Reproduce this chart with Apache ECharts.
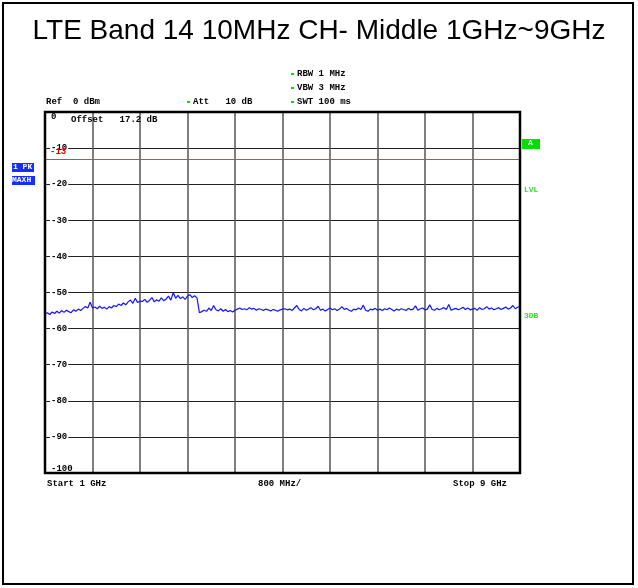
<!DOCTYPE html>
<html>
<head>
<meta charset="utf-8">
<script src="https://cdn.jsdelivr.net/npm/echarts@6/dist/echarts.min.js"></script>
<style>
html,body{margin:0;padding:0;background:#fff;}
#chart{width:638px;height:588px;}
</style>
</head>
<body>
<div id="chart"></div>
<script>
// ---- data ----
var titleText = "LTE Band 14 10MHz CH- Middle 1GHz~9GHz";
var freqStartMHz = 1000;
var freqStopMHz = 9000;
var freqStepMHz = 40;
var levelMin = -100;
var levelMax = 0;
var levelStep = 10;
var limitLine = -13;
var traceDbm = [
  -56.0,-55.6,-56.1,-55.4,-55.8,-55.2,-55.7,-55.0,-55.5,-54.9,-55.3,-55.6,-54.8,
  -55.2,-54.6,-55.0,-54.4,-53.9,-54.3,-52.7,-54.3,
  -54.0,-54.5,-53.8,-54.4,-54.1,-54.6,-53.9,-54.3,-53.6,-53.9,
  -53.2,-53.6,-52.9,-53.4,-52.6,-52.1,-53.0,-51.6,-52.8,-52.4,
  -52.5,-51.9,-52.7,-52.2,-51.4,-52.6,-52.0,-52.4,-51.5,-52.3,-51.8,-51.0,-52.1,-50.0,-51.6,
  -50.8,-51.7,-51.2,-51.9,-51.0,-50.6,-51.4,-50.9,-51.5,
  -55.6,
  -55.3,-54.9,-55.2,-54.3,-55.0,-53.6,-54.8,-55.1,-54.5,-55.2,-54.7,-55.3,-55.0,-55.4,-54.9,
  -54.6,-54.3,-54.7,-54.5,-54.8,-54.2,-54.6,-54.4,-54.9,-54.5,-54.7,-55.0,-54.6,-54.8,-55.1,-54.7,-54.9,-55.2,-54.8,-54.6,
  -54.5,-54.8,-54.6,-55.0,-54.3,-53.6,-54.7,-55.1,-54.4,-54.9,-54.6,-54.2,-54.8,-54.5,-53.8,-54.9,-54.6,-55.1,-54.7,-54.3,
  -54.8,-54.5,-55.0,-54.6,-53.9,-54.7,-54.4,-54.9,-55.2,-54.6,-54.8,-54.3,-54.7,-53.5,-54.9,-55.2,-54.6,-54.8,-54.4,-54.9,
  -54.6,-55.0,-54.5,-54.8,-54.3,-54.7,-55.1,-54.6,-54.9,-54.5,
  -54.7,-55.0,-54.4,-54.8,-54.6,-53.7,-54.9,-54.5,-54.3,-54.8,-54.6,-53.4,-54.7,-54.9,-54.4,-54.8,-54.5,-54.2,-54.7,-53.3,
  -54.9,-54.6,-54.4,-54.8,-54.5,-54.1,-54.7,-54.3,-54.8,-54.6,-54.4,-54.9,-54.2,-54.7,-54.5,-53.9,-54.6,-54.3,-54.8,-54.5,
  -54.2,-54.7,-54.4,-54.0,-54.6,-54.3,-53.6,-54.5,-54.1,-53.8
];
var headerLeft = ["Ref  0 dBm", "Att   10 dB"];
var headerRight = ["RBW 1 MHz", "VBW 3 MHz", "SWT 100 ms"];
var footer = ["Start 1 GHz", "800 MHz/", "Stop 9 GHz"];

var traceData = traceDbm.map(function (v, i) { return [freqStartMHz + i * freqStepMHz, v]; });

var mono = "'Liberation Mono', 'DejaVu Sans Mono', monospace";
function txt(x, y, s, color, extra) {
  var o = { type: 'text', left: x, top: y, z: 200,
    style: { text: s, fill: color || '#000', font: 'bold 9px ' + mono } };
  if (extra) for (var k in extra) o.style[k] = extra[k];
  return o;
}
function dot(x, y) {
  return { type: 'rect', shape: { x: x, y: y, width: 3, height: 2 }, style: { fill: '#00dd00' }, z: 200 };
}

var G = { left: 45, top: 112, width: 475, height: 361 };

var chart = echarts.init(document.getElementById('chart'), null, { renderer: 'canvas' });
chart.setOption({
  animation: false,
  backgroundColor: '#fff',
  title: {
    text: titleText, left: 'center', top: 12,
    textStyle: { fontFamily: "'Liberation Sans', Arial, sans-serif", fontSize: 28, fontWeight: 'normal', color: '#000' }
  },
  grid: { left: G.left, top: G.top, width: G.width, height: G.height, show: false },
  xAxis: [
    { type: 'value', min: freqStartMHz, max: freqStopMHz, show: false },
    { type: 'value', min: 0, max: 10, interval: 1, position: 'bottom',
      axisLine: { show: false }, axisTick: { show: false }, axisLabel: { show: false },
      splitLine: { show: true, lineStyle: { color: '#555', width: 1.5 } } }
  ],
  yAxis: {
    type: 'value', min: levelMin, max: levelMax, interval: levelStep,
    axisLine: { show: false }, axisTick: { show: false },
    splitLine: { show: true, lineStyle: { color: '#222', width: 1.2 } },
    axisLabel: {
      inside: true, margin: 5, color: '#000',
      fontFamily: mono, fontSize: 9, fontWeight: 'bold',
      backgroundColor: '#fff', padding: [0, 1, 0, 1],
      verticalAlignMinLabel: 'bottom', verticalAlignMaxLabel: 'top',
      formatter: function (v) { return String(v); }
    }
  },
  series: [{
    type: 'line', xAxisIndex: 0, data: traceData, showSymbol: false, symbol: 'none',
    lineStyle: { color: '#1414ff', width: 1.2 }, z: 10,
    markLine: {
      silent: true, symbol: 'none', label: { show: false },
      lineStyle: { color: '#e83a3a', width: 1, type: 'solid' },
      data: [{ yAxis: limitLine }]
    }
  }],
  graphic: [
    { type: 'rect', shape: { x: 3, y: 3, width: 630, height: 581 }, style: { fill: null, stroke: '#000', lineWidth: 2 }, z: 150 },
    { type: 'rect', shape: { x: G.left, y: G.top, width: G.width, height: G.height }, style: { fill: null, stroke: '#000', lineWidth: 2.5 }, z: 150 },
    dot(187, 101), txt(46, 97, headerLeft[0]), txt(193, 97, headerLeft[1]),
    dot(291, 73), txt(297, 69, headerRight[0]),
    dot(291, 87), txt(297, 83, headerRight[1]),
    dot(291, 101), txt(297, 97, headerRight[2]),
    txt(71, 115, "Offset   17.2 dB"),
    txt(50, 147, "-13", '#e00000'),
    { type: 'rect', shape: { x: 12, y: 163, width: 22, height: 9 }, style: { fill: '#1030ff' }, z: 190 },
    txt(13, 163, "1 PK", '#fff', { font: 'bold 8px ' + mono }),
    { type: 'rect', shape: { x: 12, y: 176, width: 23, height: 9 }, style: { fill: '#1030ff' }, z: 190 },
    txt(12, 176, "MAXH", '#fff', { font: 'bold 8px ' + mono }),
    { type: 'rect', shape: { x: 522, y: 139, width: 18, height: 10 }, style: { fill: '#00e000' }, z: 190 },
    txt(528, 139, "A", '#fff', { font: 'bold 8px ' + mono }),
    txt(524, 186, "LVL", '#33dd33', { font: 'bold 8px ' + mono }),
    txt(524, 312, "3DB", '#33dd33', { font: 'bold 8px ' + mono }),
    txt(47, 479, footer[0]), txt(258, 479, footer[1]), txt(453, 479, footer[2])
  ]
});
</script>
</body>
</html>
